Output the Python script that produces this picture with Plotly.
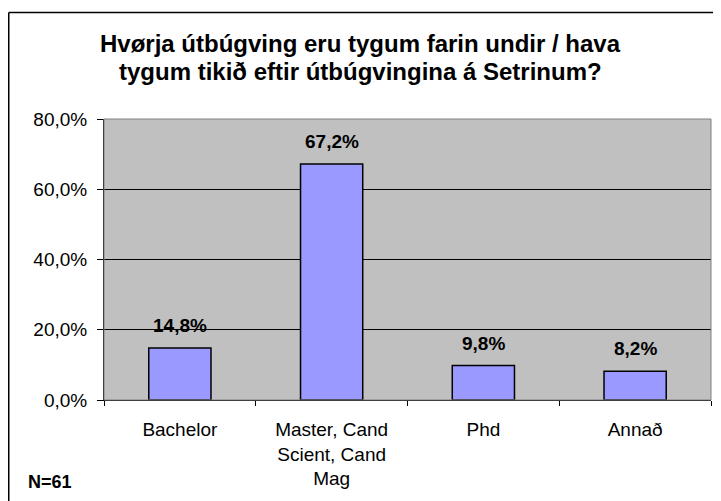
import plotly.graph_objects as go

# data (share of N=61 respondents)
categories = ["Bachelor", "Master, Cand<br>Scient, Cand<br>Mag", "Phd", "Annað"]
shares = [0.148, 0.672, 0.098, 0.082]
y_ticks = [0, 0.2, 0.4, 0.6, 0.8]

title_lines = [
    "Hvørja útbúgving eru tygum farin undir / hava",
    "tygum tikið eftir útbúgvingina á Setrinum?",
]
note = "N=61"

FONT = "Liberation Sans, Arial, sans-serif"

# the page body has an 8px margin, so the figure is laid out 8px smaller
W, H = 713, 493
L, T, R, B = 96, 111, 10, 101
PW, PH = W - L - R, H - T - B

fig = go.Figure()
fig.add_trace(go.Bar(
    x=categories,
    y=shares,
    marker=dict(color="#9999FF", line=dict(color="black", width=1.5)),
    width=0.41,
    hoverinfo="skip",
))

# value labels above the bars
annotations = []
for cat, val in zip(categories, shares):
    annotations.append(dict(
        x=cat, y=val, xref="x", yref="y",
        text=f"{val * 100:.1f}%".replace(".", ","),
        showarrow=False, yanchor="bottom", yshift=10,
        font=dict(family=FONT, size=19, color="black", weight="bold"),
    ))

# two-line title, placed in pixel space and centred on the whole figure
for i, line in enumerate(title_lines):
    annotations.append(dict(
        x=(352 - L) / PW, y=1, xref="paper", yref="paper",
        xanchor="center", yanchor="middle",
        text=line, showarrow=False, yshift=(T - 35) - i * 28,
        font=dict(family=FONT, size=24, color="black", weight="bold"),
    ))

annotations.append(dict(
    x=(18 - L) / PW, y=0, xref="paper", yref="paper", xanchor="left", yanchor="middle",
    text=f"<b>{note}</b>", showarrow=False, yshift=-(474 - (T + PH)),
    font=dict(family=FONT, size=18, color="black"),
))

fig.update_layout(
    width=W, height=H,
    margin=dict(l=L, r=R, t=T, b=B),
    paper_bgcolor="white",
    plot_bgcolor="#C0C0C0",
    separators=",.",
    showlegend=False,
    font=dict(family=FONT, size=19, color="black"),
    annotations=annotations,
    shapes=[
        # outer chart frame (runs past the right/bottom edge in the reference)
        dict(type="line", xref="paper", yref="paper",
             x0=(0.75 - L) / PW, x1=(W - L) / PW, y0=(T + PH - 4.5) / PH, y1=(T + PH - 4.5) / PH,
             line=dict(color="black", width=1.5)),
        dict(type="line", xref="paper", yref="paper",
             x0=(0.75 - L) / PW, x1=(0.75 - L) / PW, y0=-(B) / PH, y1=(T + PH - 4.5) / PH,
             line=dict(color="black", width=1.5)),
        # plot area outline
        dict(type="rect", xref="paper", yref="paper", x0=0, x1=1, y0=0, y1=1,
             line=dict(color="#808080", width=1)),
    ],
)

fig.update_xaxes(
    type="category",
    showline=True, linecolor="black", linewidth=1,
    ticks="outside", ticklen=5, tickcolor="black", tickson="boundaries",
    ticklabelstandoff=12,
    showgrid=False,
)
fig.update_yaxes(
    range=[0, 0.8],
    tickvals=y_ticks,
    tickformat=".1%",
    showline=True, linecolor="black", linewidth=1,
    ticks="outside", ticklen=6, tickcolor="black",
    ticklabelstandoff=6,
    showgrid=True, gridcolor="black", gridwidth=1,
    zeroline=False,
)

fig.write_html("out.html")
